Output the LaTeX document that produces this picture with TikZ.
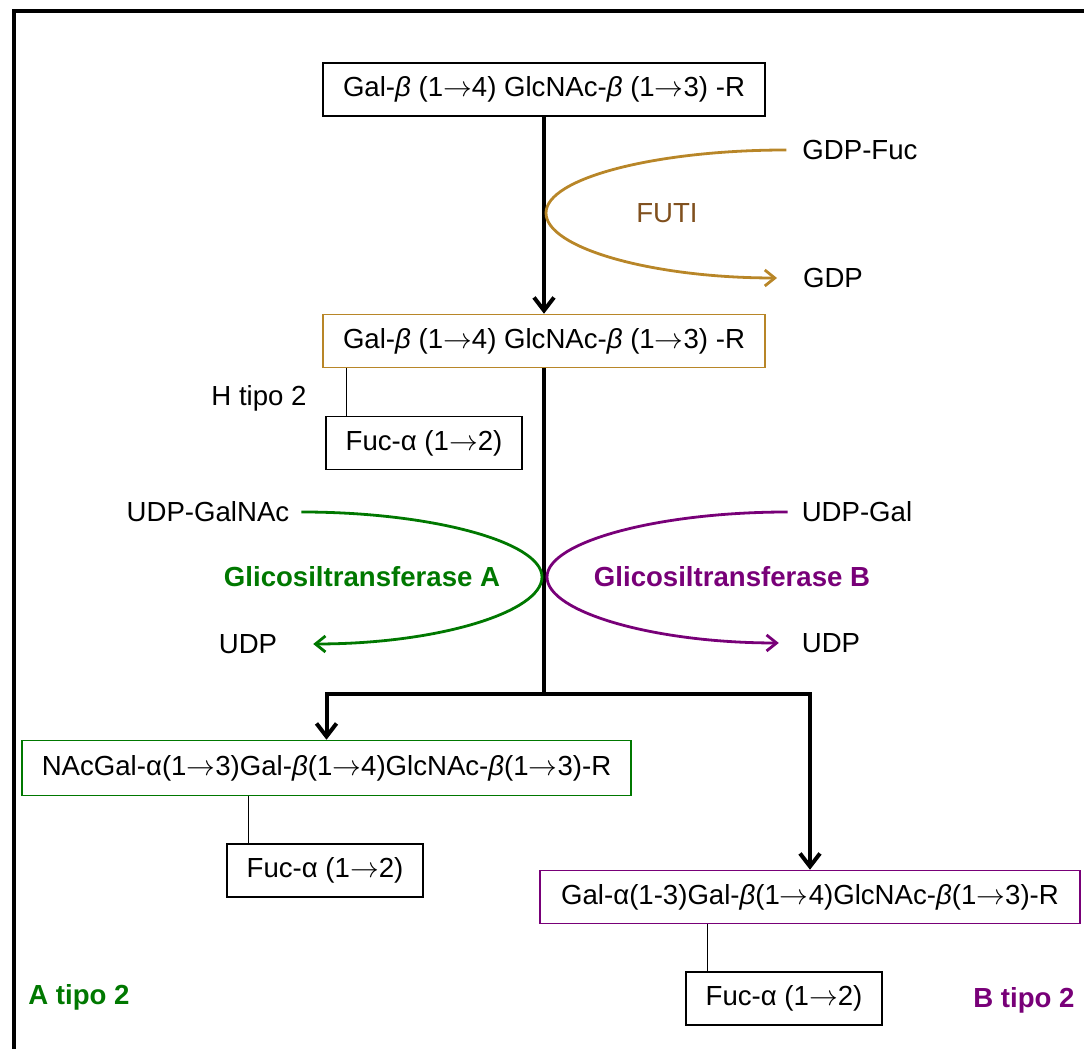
\documentclass[tikz,border=0pt]{standalone}
\usepackage{fontspec}
\setmainfont{Liberation Sans}
\usetikzlibrary{arrows.meta}
\definecolor{futbrown}{RGB}{184,134,40}
\definecolor{futtext}{RGB}{128,80,30}
\definecolor{agreen}{RGB}{0,120,0}
\definecolor{bpurple}{RGB}{120,0,120}
\newcommand{\glyarrow}{$\rightarrow$}
\tikzstyle{sugar}    = [rectangle, draw=black, line width=0.75pt, minimum height=26.5pt, inner sep=0pt, text centered, font=\fontsize{13.8pt}{16pt}\selectfont]
\tikzstyle{fucose}   = [sugar, minimum width=98pt]
\tikzstyle{txt}      = [font=\fontsize{13.8pt}{16pt}\selectfont]
\tikzstyle{enzyme}   = [font=\fontsize{13.8pt}{16pt}\selectfont\bfseries]
\tikzstyle{arrow}    = [line width=2pt, -{Straight Barb[length=6.5pt,width=10pt]}]
\tikzstyle{mainline} = [line width=2pt]
\tikzstyle{link}     = [line width=0.75pt]
\tikzstyle{reaction} = [line width=1.4pt, -{Straight Barb[length=5pt,width=8pt]}]

\begin{document}
\begin{tikzpicture}[x=0.5pt, y=0.5pt]
    \useasboundingbox (0,0) rectangle (1084,1049);
    \draw [line width=2pt] (14,0) -- (14,1038) -- (1084,1038);

    \node (precursor) [sugar, minimum width=221pt] at (544,959.5) {Gal-\textit{β} (1\glyarrow4) GlcNAc-\textit{β} (1\glyarrow3) -R};
    \node (htype)     [sugar, draw=futbrown, minimum width=221pt] at (544,708) {Gal-\textit{β} (1\glyarrow4) GlcNAc-\textit{β} (1\glyarrow3) -R};
    \node (hfuc)      [fucose] at (424,606) {Fuc-α (1\glyarrow2)};
    \node (abox)      [sugar, draw=agreen, minimum width=304.5pt, minimum height=27.5pt] at (326.5,281) {NAcGal-α(1\glyarrow3)Gal-\textit{β}(1\glyarrow4)GlcNAc-\textit{β}(1\glyarrow3)-R};
    \node (afuc)      [fucose] at (325,178.5) {Fuc-α (1\glyarrow2)};
    \node (bbox)      [sugar, draw=bpurple, minimum width=270pt] at (810,152) {Gal-α(1-3)Gal-\textit{β}(1\glyarrow4)GlcNAc-\textit{β}(1\glyarrow3)-R};
    \node (bfuc)      [fucose] at (784,50.5) {Fuc-α (1\glyarrow2)};

    \node (gdpfuc)    [txt] at (860,899) {GDP-Fuc};
    \node (gdp)       [txt] at (833,771) {GDP};
    \node (futi)      [txt, text=futtext] at (667,836) {FUTI};
    \node (hlabel)    [txt] at (259,651) {H tipo 2};
    \node (udpgalnac) [txt] at (208,537) {UDP-GalNAc};
    \node (enzA)      [enzyme, text=agreen] at (362,472) {Glicosiltransferase A};
    \node (udpA)      [txt] at (248,405) {UDP};
    \node (udpgal)    [txt] at (857,537) {UDP-Gal};
    \node (enzB)      [enzyme, text=bpurple] at (732,472) {Glicosiltransferase B};
    \node (udpB)      [txt] at (831,406) {UDP};
    \node (alabel)    [enzyme, text=agreen] at (79,52) {A tipo 2};
    \node (blabel)    [enzyme, text=bpurple] at (1024,49) {B tipo 2};

    \coordinate (split)   at (544,355);
    \coordinate (futitip) at (546,836);
    \coordinate (atip)    at (542,472);
    \coordinate (btip)    at (547,472);

    % main pathway
    \draw [arrow] (precursor) -- (htype);
    \draw [mainline] (htype) -- (split);
    \draw [arrow] (split) -| (abox);
    \draw [arrow] (split) -| (bbox);

    % fucose branches
    \draw [link] ([xshift=10.5pt]hfuc.north west) -- ([xshift=10.5pt]hfuc.north west |- htype.south);
    \draw [link] ([xshift=11pt]afuc.north west) -- ([xshift=11pt]afuc.north west |- abox.south);
    \draw [link] ([xshift=11pt]bfuc.north west) -- ([xshift=11pt]bfuc.north west |- bbox.south);

    % donors
    \draw [reaction, futbrown] ([xshift=-4.5pt]gdpfuc.west) .. controls +(-130,0) and +(0,35) .. (futitip) .. controls +(0,-35) and +(-125,0) .. ([xshift=-9.5pt]gdp.west);
    \draw [reaction, agreen] ([xshift=2.5pt]udpgalnac.east) .. controls +(130,0) and +(0,35) .. (atip) .. controls +(0,-35) and +(125,0) .. ([xshift=14.5pt]udpA.east);
    \draw [reaction, bpurple] ([xshift=-3.5pt]udpgal.west) .. controls +(-130,0) and +(0,35) .. (btip) .. controls +(0,-35) and +(-125,0) .. ([xshift=-8pt]udpB.west);

\end{tikzpicture}
\end{document}
